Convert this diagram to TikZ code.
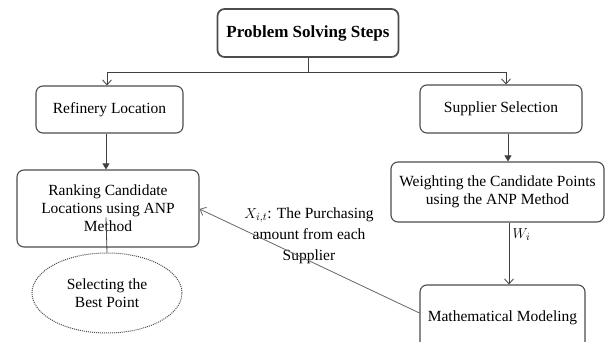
\documentclass[tikz,border=0pt]{standalone}
\usepackage{fontspec}
\setmainfont{Liberation Serif}
\usetikzlibrary{%
  arrows.meta,%
  shapes.geometric,% wg. ellipse
  positioning,%
  calc%
}

\begin{document}
\begin{tikzpicture}
  [
  x=1pt, y=-1pt, line width=0.8pt, draw=black!75,
  stepbox/.style={rectangle, rounded corners=7pt, draw=black!70, line width=1.1pt,
    align=center, inner sep=0pt, font=\fontsize{15.5}{18}\selectfont},
  resultnode/.style={ellipse, draw=black!70, densely dotted, line width=1pt,
    align=center, inner sep=0pt, font=\fontsize{15.5}{18}\selectfont},
  openarrow/.style={-{Straight Barb[length=5pt,width=9pt]}},
  fullarrow/.style={-{Triangle[length=6pt,width=7pt]}}
  ]

  \useasboundingbox (0,0) rectangle (606,342);

  \node[stepbox, line width=1.7pt, minimum width=181pt, minimum height=48pt,
    font=\fontsize{17}{20}\selectfont\bfseries] (prob) at (308,33) {Problem Solving Steps};

  \node[stepbox, minimum width=147pt, minimum height=47pt] (refin) at (109.5,109.5) {Refinery Location};
  \node[stepbox, minimum width=162pt, minimum height=48pt] (supp) at (501,109) {Supplier Selection};

  \node[stepbox, minimum width=182pt, minimum height=77pt] (rank) at (108,208.5)
    {Ranking Candidate\\Locations using ANP\\Method};
  \node[stepbox, minimum width=213pt, minimum height=60pt] (weigh) at (497.5,192)
    {Weighting the Candidate Points\\using the ANP Method};
  \node[stepbox, minimum width=165pt, minimum height=66pt] (math) at (502.5,318) {Mathematical Modeling};

  \node[resultnode, minimum width=150pt, minimum height=80pt] (best) at (107,293)
    {Selecting the\\Best Point};

  \node[align=center, font=\fontsize{15.5}{21}\selectfont] (purch) at (309,236)
    {$X_{i,t}$: The Purchasing\\amount from each\\Supplier};

  % branching from the top box
  \coordinate (fork) at (prob.south |- 0,72);
  \coordinate (forkl) at (107,72);
  \coordinate (forkr) at (506,72);
  \draw (prob.south) -- (fork);
  \draw[openarrow] (fork) -- (forkl) -- (forkl |- refin.north);
  \draw[openarrow] (fork) -- (forkr) -- (forkr |- supp.north);

  \draw[fullarrow] (refin.south -| 106,0) -- (rank.north -| 106,0);
  \draw[fullarrow] (supp.south -| 508,0) -- (weigh.north -| 508,0);
  \draw[openarrow] (weigh.south -| 509,0) -- (math.north -| 509,0)
    node[pos=0.2, right, font=\fontsize{15}{18}\selectfont] {$W_i$};

  \draw[openarrow, draw=black!60] ([yshift=5pt]math.west) -- ([yshift=-0.5pt]rank.east);
  \draw ([yshift=-9pt]rank.center -| 106,0) -- (best.north);
\end{tikzpicture}
\end{document}
